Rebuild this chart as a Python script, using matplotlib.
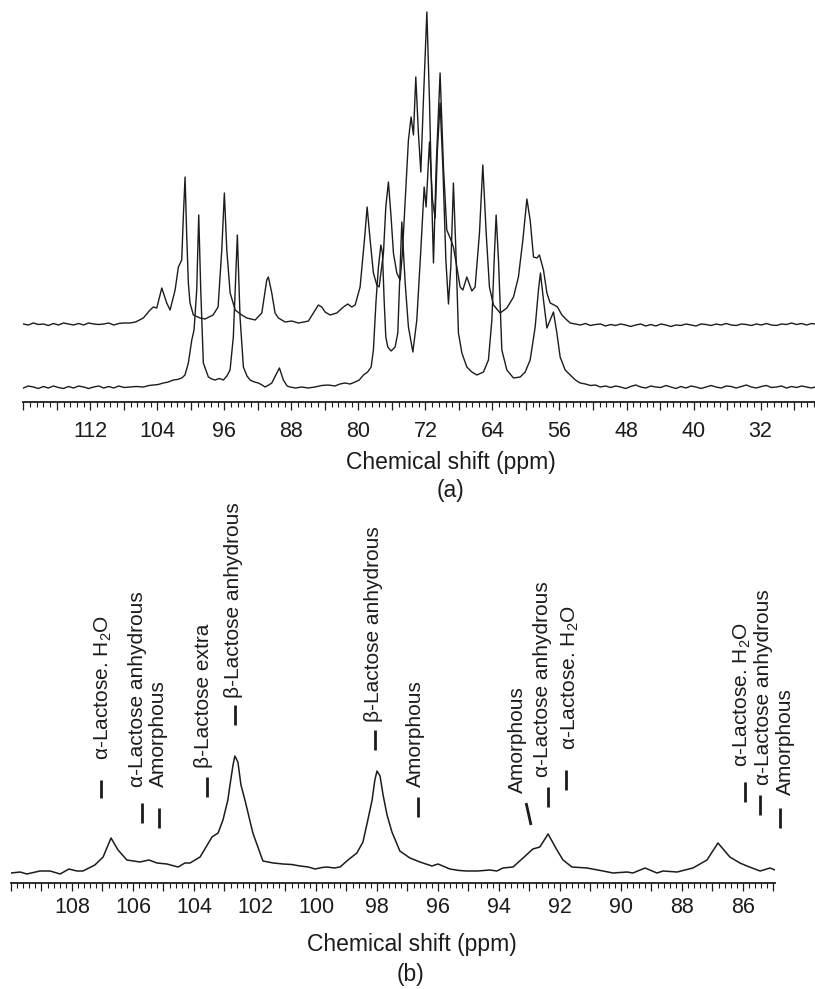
import matplotlib
matplotlib.use("Agg")
import matplotlib.pyplot as plt
import numpy as np
from matplotlib.ticker import MultipleLocator, FuncFormatter

plt.rcParams['font.family'] = ['Liberation Sans', 'DejaVu Sans']
plt.rcParams['mathtext.fontset'] = 'custom'
plt.rcParams['mathtext.rm'] = 'Liberation Sans'
plt.rcParams['mathtext.it'] = 'Liberation Sans:italic'

INK = '#1c1c1c'

# ---- panel (a): two stacked 13C spectra, (ppm, intensity)
upper_trace = [
    (120.0, 78), (119.4, 77), (118.8, 79), (118.2, 77.5), (117.6, 78), (117.0, 76.5),
    (116.4, 78.5), (115.8, 77), (115.2, 79), (114.6, 78), (114.0, 77), (113.4, 78.5),
    (112.8, 77), (112.2, 79), (111.6, 78), (111.0, 77.5), (110.4, 78), (109.8, 79),
    (109.2, 77), (108.6, 78.5), (108.0, 79), (107.26, 79), (106.6, 80), (105.67, 84),
    (104.87, 92), (104.48, 95), (104.07, 94), (103.47, 114), (102.88, 99), (102.48, 92),
    (101.88, 112), (101.49, 135), (101.09, 142), (100.90, 185), (100.69, 225), (100.50, 168),
    (100.30, 119), (100.10, 99), (99.70, 87), (98.90, 84), (98.30, 83), (97.35, 87),
    (96.75, 95), (96.31, 152), (96.0, 209), (95.71, 152), (95.31, 109), (94.71, 92),
    (93.92, 87), (93.32, 84), (92.33, 82), (91.53, 89), (90.94, 122), (90.75, 125),
    (90.34, 109), (89.95, 89), (89.55, 84), (88.75, 80), (87.95, 81), (87.16, 79),
    (86.5, 80), (85.97, 81), (85.37, 89), (84.78, 97), (84.37, 95), (83.98, 90),
    (83.38, 87), (82.58, 89), (81.79, 95), (81.27, 98), (80.79, 95), (80.39, 97),
    (79.80, 115), (79.28, 162), (78.96, 195), (78.60, 162), (78.21, 129), (77.80, 117),
    (77.53, 115), (77.01, 149), (76.73, 195), (76.42, 220), (76.10, 185), (75.82, 149),
    (75.42, 129), (75.02, 122), (74.75, 149), (74.42, 200), (74.03, 262), (73.71, 285),
    (73.43, 267), (73.15, 325), (72.84, 269), (72.55, 230), (72.24, 302), (71.83, 390),
    (71.52, 302), (71.24, 202), (71.04, 139), (70.72, 235), (70.25, 329), (69.85, 235),
    (69.45, 172), (69.05, 164), (68.66, 155), (68.25, 135), (67.86, 115), (67.53, 112),
    (67.06, 125), (66.46, 111), (66.07, 115), (65.55, 169), (65.15, 237), (64.75, 169),
    (64.36, 115), (63.88, 97), (63.08, 89), (62.28, 94), (61.49, 105), (60.90, 125),
    (60.37, 162), (59.89, 203), (59.50, 182), (59.10, 145), (58.70, 144), (58.39, 147),
    (57.91, 132), (57.50, 109), (57.11, 99), (56.63, 97), (56.24, 95), (55.71, 87),
    (55.12, 82), (54.72, 79), (54.1, 78), (53.5, 77), (52.9, 78.5), (52.3, 76.5),
    (51.7, 77.5), (51.1, 78), (50.5, 76), (49.9, 77.5), (49.3, 76.5), (48.7, 78),
    (48.1, 77), (47.5, 75.5), (46.9, 77), (46.3, 78), (45.7, 76), (45.1, 77.5),
    (44.5, 76), (43.9, 78), (43.3, 77), (42.7, 75.5), (42.1, 77), (41.5, 76.5),
    (40.9, 78), (40.3, 77), (39.7, 76), (39.1, 78), (38.5, 77.5), (37.9, 76.5),
    (37.3, 78), (36.7, 77), (36.1, 78.5), (35.5, 77), (34.9, 76.5), (34.3, 78),
    (33.7, 77.5), (33.1, 76.5), (32.5, 78), (31.9, 77), (31.3, 78.5), (30.7, 77),
    (30.1, 76.5), (29.5, 78), (28.9, 77.5), (28.3, 79), (27.7, 77.5), (27.1, 78.5),
    (26.5, 77), (25.9, 78.5), (25.5, 78),
]

lower_trace = [
    (120.0, 14), (119.4, 16), (118.8, 15), (118.2, 13.5), (117.6, 15.5), (117.0, 14),
    (116.4, 16), (115.8, 14.5), (115.2, 13.5), (114.6, 15.5), (114.0, 14), (113.4, 16),
    (112.8, 15), (112.2, 13.5), (111.6, 15), (111.0, 16), (110.4, 14), (109.8, 15.5),
    (109.2, 14), (108.6, 16), (108.0, 14.5), (107.26, 15), (106.5, 15.5), (105.67, 15),
    (105.0, 16.5), (104.48, 17), (103.9, 17.5), (103.28, 19), (102.7, 20), (102.09, 22),
    (101.6, 22.5), (101.09, 24), (100.7, 27), (100.30, 39), (99.89, 62), (99.62, 72),
    (99.30, 112), (99.06, 187), (98.82, 112), (98.51, 39), (97.91, 25), (97.5, 23),
    (97.11, 22), (96.6, 23.5), (96.12, 22), (95.7, 26), (95.32, 32), (94.93, 65),
    (94.45, 167), (94.13, 85), (93.73, 35), (93.3, 26), (92.93, 22), (92.4, 20),
    (91.94, 19), (91.5, 17), (91.14, 15), (90.7, 17), (90.34, 19), (89.74, 29),
    (89.43, 34), (88.96, 22), (88.5, 16), (88.16, 15), (87.5, 14), (86.76, 15),
    (86.0, 14), (85.17, 15), (84.4, 16.5), (83.58, 17), (82.8, 16), (82.2, 18),
    (81.59, 19), (81.0, 18), (80.39, 20), (79.9, 22), (79.40, 27), (78.9, 30),
    (78.48, 35), (78.21, 52), (77.89, 102), (77.61, 135), (77.32, 157), (77.13, 149),
    (76.93, 102), (76.73, 65), (76.49, 55), (76.10, 51), (75.62, 55), (75.30, 69),
    (75.02, 135), (74.82, 180), (74.42, 119), (74.03, 75), (73.50, 50), (73.03, 82),
    (72.55, 152), (72.15, 215), (71.92, 195), (71.52, 260), (71.16, 202), (70.84, 184),
    (70.57, 252), (70.25, 299), (69.92, 235), (69.56, 142), (69.25, 98), (68.97, 135),
    (68.66, 219), (68.37, 152), (68.06, 69), (67.65, 49), (67.06, 35), (66.46, 30),
    (65.86, 27), (65.07, 30), (64.48, 42), (64.07, 82), (63.76, 149), (63.56, 187),
    (63.28, 142), (62.88, 52), (62.28, 32), (61.49, 24), (60.69, 25), (60.09, 30),
    (59.50, 42), (58.90, 75), (58.51, 112), (58.27, 129), (57.91, 102), (57.50, 74),
    (57.11, 82), (56.72, 90), (56.31, 69), (55.92, 45), (55.32, 32), (54.72, 27),
    (54.1, 22), (53.53, 19), (52.9, 18), (52.3, 16.5), (51.7, 17), (51.14, 15),
    (50.5, 16), (49.9, 14.5), (49.3, 16), (48.7, 15), (48.1, 13.5), (47.5, 15.5),
    (46.9, 17), (46.3, 15), (45.7, 14), (45.1, 16), (44.5, 15), (43.9, 14.5),
    (43.3, 16.5), (42.7, 15), (42.1, 13.5), (41.5, 15.5), (40.9, 14), (40.3, 16),
    (39.7, 15), (39.1, 13.5), (38.5, 15), (37.9, 16.5), (37.3, 15), (36.7, 14),
    (36.1, 16), (35.5, 15.5), (34.9, 14), (34.3, 15.5), (33.7, 17), (33.1, 15),
    (32.5, 14), (31.9, 15.5), (31.3, 16.5), (30.7, 14.5), (30.1, 15), (29.5, 16),
    (28.9, 14), (28.3, 15.5), (27.7, 14.5), (27.1, 16), (26.5, 15), (25.9, 14), (25.5, 15),
]

# ---- panel (b): expanded anomeric region
zoom_trace = [
    (110.0, 10), (109.70, 11), (109.48, 9), (109.05, 12), (108.72, 12), (108.39, 9),
    (108.10, 14), (107.84, 12), (107.64, 12), (107.25, 18), (106.98, 26), (106.72, 45),
    (106.49, 33), (106.20, 23), (105.77, 21), (105.48, 23), (105.21, 20), (104.89, 19),
    (104.52, 16), (104.30, 20), (104.13, 20), (103.80, 26), (103.41, 46), (103.21, 50),
    (103.05, 63), (102.89, 83), (102.82, 98), (102.72, 118), (102.66, 127), (102.56, 121),
    (102.46, 98), (102.33, 83), (102.07, 50), (101.74, 22), (101.40, 20), (101.08, 19),
    (100.80, 18.5), (100.52, 17), (100.25, 16), (100.03, 14), (99.80, 15.5), (99.64, 16),
    (99.40, 15), (99.21, 16), (98.95, 23), (98.66, 30), (98.46, 41), (98.30, 63),
    (98.16, 83), (98.07, 103), (98.0, 112), (97.90, 107), (97.80, 88), (97.67, 68),
    (97.51, 51), (97.25, 32), (96.92, 25), (96.59, 21), (96.20, 17), (96.0, 19),
    (95.61, 14), (95.30, 12.5), (95.05, 12), (94.70, 12), (94.30, 13), (94.07, 12),
    (93.87, 15), (93.54, 16), (93.21, 25), (92.89, 34), (92.66, 36), (92.39, 49),
    (92.10, 33), (91.90, 23), (91.61, 16), (91.11, 15), (90.59, 12), (90.26, 10),
    (89.80, 11), (89.61, 10), (89.21, 15), (88.82, 10), (88.62, 12), (88.16, 11),
    (87.64, 15), (87.18, 23), (86.82, 40), (86.43, 26), (86.10, 20), (85.87, 17),
    (85.44, 12), (85.11, 15), (84.95, 13),
]

peak_labels = [
    'α-Lactose. H$_2$O', 'α-Lactose anhydrous', 'Amorphous', 'β-Lactose extra',
    'β-Lactose anhydrous', 'β-Lactose anhydrous', 'Amorphous', 'Amorphous',
    'α-Lactose anhydrous', 'α-Lactose. H$_2$O', 'α-Lactose. H$_2$O',
    'α-Lactose anhydrous', 'Amorphous',
]
peak_ppm = [107.05, 105.70, 105.15, 103.57, 102.66, 98.07, 96.66, 92.95,
            92.39, 91.80, 85.93, 85.44, 84.79]

# marker bar bottom / top, label start height, label ppm shift, bar tilt (ppm)
marker_layout = [
    (85, 103, 123, -0.07, 0), (60, 80, 96, 0.14, 0), (55, 75, 96, 0.03, 0),
    (86, 106, 115, 0.13, 0), (158, 178, 185, 0.06, 0), (133, 153, 161, 0.06, 0),
    (66, 86, 96, 0.09, 0), (58, 80, 90, 0.46, 0.16), (76, 96, 106, 0.17, 0),
    (93, 113, 133, -0.13, 0), (81, 101, 116, 0.10, 0), (68, 88, 98, -0.10, 0),
    (55, 75, 88, -0.17, 0),
]

W, H = 815, 989
fig = plt.figure(figsize=(W / 100, H / 100), dpi=100)


def px_axes(left, top, right, bottom):
    return fig.add_axes([left / W, 1 - bottom / H, (right - left) / W, (bottom - top) / H])


def style_axis(ax, major, minor, label_every, label_max, pad):
    for side in ('top', 'left', 'right'):
        ax.spines[side].set_visible(False)
    ax.spines['bottom'].set_linewidth(1.3)
    ax.spines['bottom'].set_color(INK)
    ax.set_yticks([])
    ax.xaxis.set_major_locator(MultipleLocator(major))
    ax.xaxis.set_minor_locator(MultipleLocator(minor))

    def fmt(v, pos):
        v = round(v, 3)
        if abs(v / label_every - round(v / label_every)) < 1e-6 and v <= label_max:
            return f"{int(round(v))}"
        return ""

    ax.xaxis.set_major_formatter(FuncFormatter(fmt))
    ax.tick_params(axis='x', which='major', direction='out', length=6, width=0.9,
                   color=INK, labelsize=15.5, pad=pad, labelcolor=INK)
    ax.tick_params(axis='x', which='minor', direction='out', length=3.5, width=0.8,
                   color=INK)
    ax.patch.set_alpha(0)


# panel (a)
ax_a = px_axes(23.3, 2, 815, 402)
up_ppm, up_h = np.array(upper_trace).T
lo_ppm, lo_h = np.array(lower_trace).T
ax_a.plot(up_ppm, up_h, color=INK, lw=1.0)
ax_a.plot(lo_ppm, lo_h, color=INK, lw=1.0)
ax_a.set_xlim(120, 25.5)
ax_a.set_ylim(0, 400)
style_axis(ax_a, 4, 0.8, 8, 112, 8)

fig.text(451 / W, 1 - 462 / H, 'Chemical shift (ppm)', ha='center', va='center',
         fontsize=16.5, color=INK)
fig.text(451 / W, 1 - 491 / H, '(a)', ha='center', va='center',
         fontsize=16.5, color=INK)

# panel (b)
ax_b = px_axes(11, 500, 775, 883)
zb_ppm, zb_h = np.array(zoom_trace).T
ax_b.plot(zb_ppm, zb_h, color=INK, lw=1.1)
ax_b.set_xlim(110, 84.95)
ax_b.set_ylim(0, 383)
style_axis(ax_b, 1, 0.2, 2, 108, 4)

for name, ppm, (h0, h1, ht, dx, tilt) in zip(peak_labels, peak_ppm, marker_layout):
    ax_b.plot([ppm, ppm + tilt], [h0, h1], color=INK, lw=2.0,
              solid_capstyle='butt', clip_on=False)
    ax_b.text(ppm + dx, ht, name, rotation=90, ha='center', va='bottom',
              fontsize=15, color=INK, clip_on=False)

fig.text(412 / W, 1 - 945 / H, 'Chemical shift (ppm)', ha='center', va='center',
         fontsize=16.5, color=INK)
fig.text(411 / W, 1 - 974 / H, '(b)', ha='center', va='center',
         fontsize=16.5, color=INK)

fig.savefig('out.png', dpi=100, facecolor='white')
